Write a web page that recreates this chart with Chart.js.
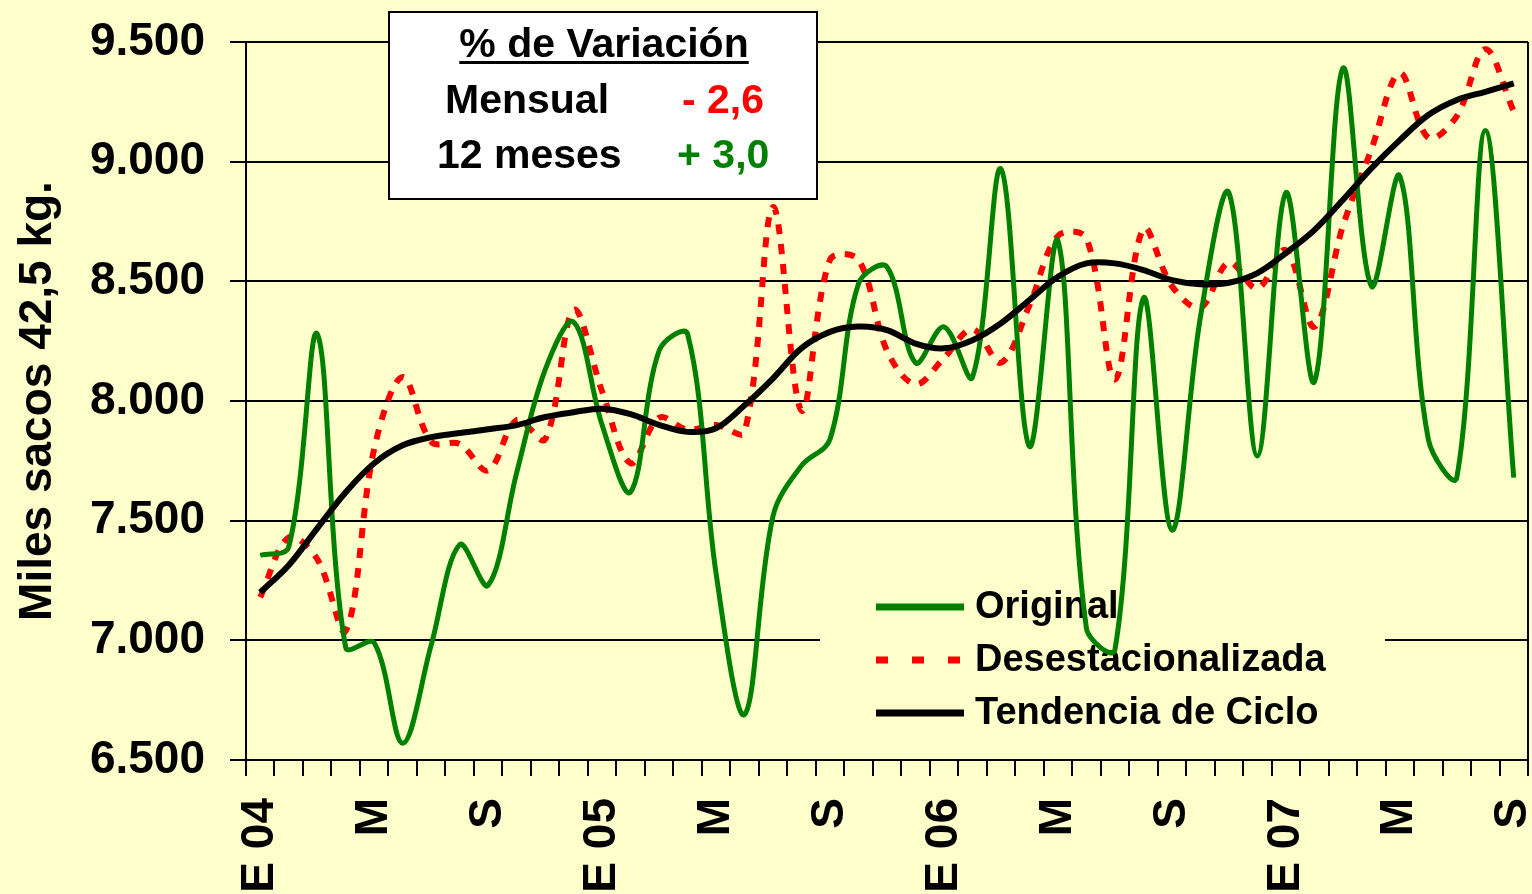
<!DOCTYPE html>
<html>
<head>
<meta charset="utf-8">
<script src="https://cdn.jsdelivr.net/npm/chart.js@4.4.0/dist/chart.umd.min.js"></script>
<style>
  html, body { margin: 0; padding: 0; background: #FFFFCC; }
  #grafico { display: block; }
</style>
</head>
<body>
<canvas id="grafico" width="1532" height="894"></canvas>
<script>
// meses ene 2004 - sep 2007
const meses = [
    'Ene 04', 'Feb 04', 'Mar 04', 'Abr 04', 'May 04', 'Jun 04', 'Jul 04', 'Ago 04', 'Sep 04', 'Oct 04', 'Nov 04', 'Dic 04',
    'Ene 05', 'Feb 05', 'Mar 05', 'Abr 05', 'May 05', 'Jun 05', 'Jul 05', 'Ago 05', 'Sep 05', 'Oct 05', 'Nov 05', 'Dic 05',
    'Ene 06', 'Feb 06', 'Mar 06', 'Abr 06', 'May 06', 'Jun 06', 'Jul 06', 'Ago 06', 'Sep 06', 'Oct 06', 'Nov 06', 'Dic 06',
    'Ene 07', 'Feb 07', 'Mar 07', 'Abr 07', 'May 07', 'Jun 07', 'Jul 07', 'Ago 07', 'Sep 07'
];

const etiquetas = [
    'E 04', '', '', '', 'M', '', '', '', 'S', '', '', '',
    'E 05', '', '', '', 'M', '', '', '', 'S', '', '', '',
    'E 06', '', '', '', 'M', '', '', '', 'S', '', '', '',
    'E 07', '', '', '', 'M', '', '', '', 'S'
];

const original = [
    7355, 7390, 8280, 6970, 6990, 6570, 6980, 7400, 7230, 7700, 8130, 8330,
    7900, 7620, 8210, 8280, 7280, 6690, 7520, 7730, 7840, 8490, 8560, 8160,
    8310, 8100, 8970, 7810, 8670, 7050, 6960, 8430, 7460, 8350, 8870, 7770,
    8870, 8080, 9390, 8480, 8940, 7840, 7680, 9130, 7680
];

const desestacionalizada = [
    7180, 7430, 7340, 7040, 7800, 8100, 7830, 7820, 7710, 7920, 7840, 8380,
    8040, 7740, 7930, 7880, 7900, 7870, 8810, 7960, 8590, 8590, 8210, 8070,
    8180, 8300, 8160, 8400, 8690, 8680, 8090, 8720, 8480, 8390, 8580, 8470,
    8630, 8310, 8730, 9050, 9370, 9100, 9190, 9470, 9210
];

const tendencia = [
    7200, 7314, 7468, 7619, 7740, 7815, 7849, 7866, 7882, 7899, 7933, 7953,
    7968, 7945, 7900, 7871, 7886, 7982, 8095, 8221, 8289, 8311, 8296, 8240,
    8220, 8254, 8325, 8422, 8519, 8575, 8575, 8547, 8505, 8488, 8494, 8534,
    8618, 8714, 8840, 8972, 9090, 9195, 9258, 9292, 9327
];

const FUENTE = '"Liberation Sans", Arial, sans-serif';
const FONDO = '#FFFFCC';
const VERDE = '#008000';
const ROJO = '#FF0000';

function miles(v) {
    return String(v).replace(/\B(?=(\d{3})+(?!\d))/g, '.');
}

// fondo amarillo de todo el lienzo
const fondoPlugin = {
    id: 'fondo',
    beforeDraw(chart) {
        const ctx = chart.ctx;
        ctx.save();
        ctx.fillStyle = FONDO;
        ctx.fillRect(0, 0, chart.width, chart.height);
        ctx.restore();
    }
};

// leyenda dentro del area (las lineas pasan por encima)
const leyendaPlugin = {
    id: 'leyendaInterna',
    beforeDatasetsDraw(chart) {
        const ctx = chart.ctx;
        const area = chart.chartArea;
        ctx.save();
        // borde derecho del area
        ctx.strokeStyle = '#000';
        ctx.lineWidth = 2;
        ctx.beginPath();
        ctx.moveTo(area.right, area.top);
        ctx.lineTo(area.right, area.bottom);
        ctx.stroke();

        ctx.fillStyle = FONDO;
        ctx.fillRect(820, 578, 565, 166);

        const filas = [607, 660, 713];
        chart.data.datasets.forEach((ds, i) => {
            const y = filas[i];
            const punteada = ds.borderDash && ds.borderDash.length;
            ctx.strokeStyle = ds.borderColor;
            ctx.lineWidth = 7;
            ctx.setLineDash(punteada ? [12, 24] : []);
            ctx.beginPath();
            ctx.moveTo(876, y);
            ctx.lineTo(964, y);
            ctx.stroke();
            ctx.setLineDash([]);
            ctx.fillStyle = '#000';
            ctx.font = 'bold 38px ' + FUENTE;
            ctx.textAlign = 'left';
            ctx.textBaseline = 'middle';
            ctx.fillText(ds.label, 975, y + 1);
        });
        ctx.restore();
    }
};

// recuadro con % de variacion
const recuadroPlugin = {
    id: 'recuadro',
    afterDraw(chart) {
        const ctx = chart.ctx;
        ctx.save();
        ctx.fillStyle = '#FFFFFF';
        ctx.fillRect(389, 12, 428, 187);
        ctx.strokeStyle = '#000';
        ctx.lineWidth = 2;
        ctx.strokeRect(389, 12, 428, 187);

        ctx.font = 'bold 41px ' + FUENTE;
        ctx.textBaseline = 'alphabetic';
        ctx.fillStyle = '#000';
        ctx.textAlign = 'center';
        const titulo = '% de Variación';
        ctx.fillText(titulo, 604, 57);
        const w = ctx.measureText(titulo).width;
        ctx.fillRect(604 - w / 2, 61, w, 3);

        ctx.textAlign = 'left';
        ctx.fillText('Mensual', 445, 113);
        ctx.fillText('12 meses', 437, 168);
        ctx.fillStyle = ROJO;
        ctx.fillText('- 2,6', 682, 113);
        ctx.fillStyle = VERDE;
        ctx.fillText('+ 3,0', 677, 168);
        ctx.restore();
    }
};

const ctx = document.getElementById('grafico').getContext('2d');
new Chart(ctx, {
    type: 'line',
    data: {
        labels: meses,
        datasets: [
            {
                label: 'Original',
                data: original,
                borderColor: VERDE,
                borderWidth: 5,
                pointRadius: 0,
                tension: 0.35,
                fill: false,
                order: 1
            },
            {
                label: 'Desestacionalizada',
                data: desestacionalizada,
                borderColor: ROJO,
                borderWidth: 6,
                borderDash: [10, 10],
                pointRadius: 0,
                tension: 0.35,
                fill: false,
                order: 2
            },
            {
                label: 'Tendencia de Ciclo',
                data: tendencia,
                borderColor: '#000000',
                borderWidth: 6,
                pointRadius: 0,
                tension: 0.35,
                fill: false,
                order: 0
            }
        ]
    },
    options: {
        responsive: false,
        animation: false,
        devicePixelRatio: 1,
        layout: { padding: { top: 42, right: 4, left: 0, bottom: 0 } },
        plugins: {
            legend: { display: false },
            tooltip: { enabled: false }
        },
        scales: {
            x: {
                type: 'category',
                offset: true,
                afterFit(scale) {
                    scale.height = 134;
                    scale.paddingLeft = 0;
                    scale.paddingRight = 0;
                    scale.paddingTop = 0;
                    scale.paddingBottom = 0;
                },
                grid: {
                    offset: true,
                    drawOnChartArea: false,
                    drawTicks: true,
                    tickLength: 16,
                    color: '#000',
                    lineWidth: 2
                },
                border: { color: '#000', width: 2 },
                ticks: {
                    autoSkip: false,
                    maxRotation: 90,
                    minRotation: 90,
                    padding: 22,
                    color: '#000',
                    font: { family: FUENTE, size: 46, weight: 'bold' },
                    callback: (v, i) => etiquetas[i]
                }
            },
            y: {
                min: 6500,
                max: 9500,
                afterFit(scale) {
                    scale.width = 246;
                    scale.paddingTop = 0;
                    scale.paddingBottom = 0;
                },
                grid: {
                    color: '#000',
                    lineWidth: 2,
                    tickLength: 16
                },
                border: { color: '#000', width: 2 },
                ticks: {
                    stepSize: 500,
                    padding: 25,
                    color: '#000',
                    font: { family: FUENTE, size: 46, weight: 'bold' },
                    callback: (v) => miles(v)
                },
                title: {
                    display: true,
                    text: 'Miles sacos 42,5 kg.',
                    color: '#000',
                    font: { family: FUENTE, size: 46, weight: 'bold' },
                    padding: { top: 11, bottom: 0 }
                }
            }
        }
    },
    plugins: [fondoPlugin, leyendaPlugin, recuadroPlugin]
});
</script>
</body>
</html>
